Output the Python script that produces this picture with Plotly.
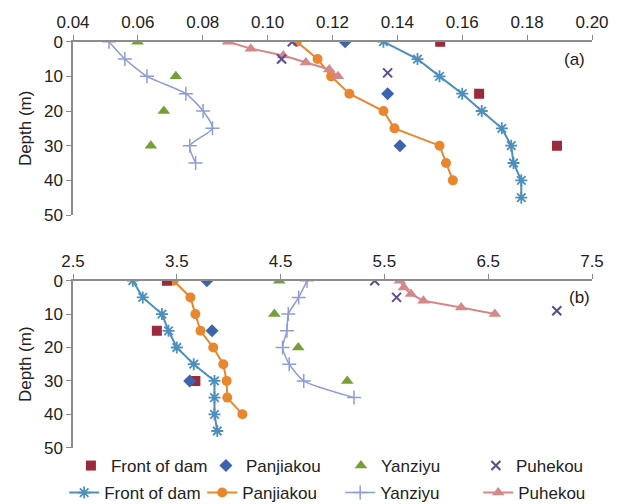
import plotly.graph_objects as go

# ---------------- data (a) ----------------
a_fd_line_depth = [0, 5, 10, 15, 20, 25, 30, 35, 40, 45]
a_fd_line_val = [0.1357, 0.1462, 0.1530, 0.1600, 0.1660, 0.1722, 0.1751, 0.1758, 0.1782, 0.1782]
a_pj_line_depth = [0, 5, 10, 15, 20, 25, 30, 35, 40]
a_pj_line_val = [0.1090, 0.1154, 0.1196, 0.1252, 0.1357, 0.1391, 0.1530, 0.1550, 0.1571]
a_yz_line_depth = [0, 5, 10, 15, 20, 25, 30, 35]
a_yz_line_val = [0.0511, 0.0560, 0.0628, 0.0748, 0.0801, 0.0830, 0.0760, 0.0778]
a_ph_line_depth = [0, 2, 4, 6, 8, 10]
a_ph_line_val = [0.0878, 0.0948, 0.1048, 0.1118, 0.1190, 0.1217]

a_fd_pt_depth = [0, 15, 30]
a_fd_pt_val = [0.1532, 0.1652, 0.1892]
a_pj_pt_depth = [0, 15, 30]
a_pj_pt_val = [0.1239, 0.1370, 0.1408]
a_yz_pt_depth = [0, 10, 20, 30]
a_yz_pt_val = [0.0599, 0.0717, 0.0680, 0.0640]
a_ph_pt_depth = [0, 5, 9]
a_ph_pt_val = [0.1076, 0.1043, 0.1370]

# ---------------- data (b) ----------------
b_fd_line_depth = [0, 5, 10, 15, 20, 25, 30, 35, 40, 45]
b_fd_line_val = [3.076, 3.172, 3.357, 3.420, 3.500, 3.663, 3.863, 3.863, 3.863, 3.890]
b_pj_line_depth = [0, 5, 10, 15, 20, 25, 30, 35, 40]
b_pj_line_val = [3.469, 3.631, 3.679, 3.728, 3.851, 3.948, 3.980, 3.986, 4.132]
b_yz_line_depth = [0, 5, 10, 15, 20, 25, 30, 35]
b_yz_line_val = [4.755, 4.674, 4.574, 4.561, 4.519, 4.583, 4.723, 5.207]
b_ph_line_depth = [0, 2, 4, 6, 8, 10]
b_ph_line_val = [5.649, 5.688, 5.756, 5.876, 6.240, 6.564]

b_fd_pt_depth = [0, 15, 30]
b_fd_pt_val = [3.405, 3.308, 3.679]
b_pj_pt_depth = [0, 15, 30]
b_pj_pt_val = [3.790, 3.840, 3.624]
b_yz_pt_depth = [0, 10, 20, 30]
b_yz_pt_val = [4.487, 4.440, 4.670, 5.142]
b_ph_pt_depth = [0, 5, 9]
b_ph_pt_val = [5.407, 5.617, 7.161]

names = ["Front of dam", "Panjiakou", "Yanziyu", "Puhekou"]
a_x_ticks = [0.04, 0.06, 0.08, 0.10, 0.12, 0.14, 0.16, 0.18, 0.20]
b_x_ticks = [2.5, 3.5, 4.5, 5.5, 6.5, 7.5]
y_ticks = [0, 10, 20, 30, 40, 50]

# ---------------- styles ----------------
pt_styles = [
    dict(symbol="square", color="#9C2A3C", size=10, line=dict(width=0)),
    dict(symbol="diamond", color="#3E63AE", size=10, line=dict(width=0)),
    dict(symbol="triangle-up", color="#76A035", size=11, line=dict(width=0)),
    dict(symbol="x-thin-open", color="#5B4A94", size=9, line=dict(width=2, color="#5B4A94")),
]
line_colors = ["#4C8FBF", "#E8872F", "#8E9CD8", "#D4888A"]
line_shapes = ["linear", "linear", "spline", "linear"]
line_markers = [
    dict(symbol="asterisk-open", size=10, line=dict(width=1.8, color="#4C8FBF")),
    dict(symbol="circle", size=10, color="#E8872F"),
    dict(symbol="cross-thin-open", size=10, line=dict(width=1.5, color="#8E9CD8")),
    dict(symbol="triangle-up", size=11, color="#D4888A"),
]

FONT = "Liberation Sans, Arial, sans-serif"
fig = go.Figure()

a_pts = [(a_fd_pt_val, a_fd_pt_depth), (a_pj_pt_val, a_pj_pt_depth),
         (a_yz_pt_val, a_yz_pt_depth), (a_ph_pt_val, a_ph_pt_depth)]
b_pts = [(b_fd_pt_val, b_fd_pt_depth), (b_pj_pt_val, b_pj_pt_depth),
         (b_yz_pt_val, b_yz_pt_depth), (b_ph_pt_val, b_ph_pt_depth)]
a_lines = [(a_fd_line_val, a_fd_line_depth), (a_pj_line_val, a_pj_line_depth),
           (a_yz_line_val, a_yz_line_depth), (a_ph_line_val, a_ph_line_depth)]
b_lines = [(b_fd_line_val, b_fd_line_depth), (b_pj_line_val, b_pj_line_depth),
           (b_yz_line_val, b_yz_line_depth), (b_ph_line_val, b_ph_line_depth)]

# lines
for i in range(4):
    lw = 1.5 if i == 2 else 2
    ln = dict(color=line_colors[i], width=lw, shape=line_shapes[i], smoothing=0.6)
    fig.add_trace(go.Scatter(x=a_lines[i][0], y=a_lines[i][1], mode="lines+markers",
                             name=names[i], line=ln,
                             marker=line_markers[i], legend="legend2", showlegend=True,
                             xaxis="x", yaxis="y"))
    fig.add_trace(go.Scatter(x=b_lines[i][0], y=b_lines[i][1], mode="lines+markers",
                             name=names[i], line=ln,
                             marker=line_markers[i], showlegend=False,
                             xaxis="x2", yaxis="y2"))
# points
for i in range(4):
    fig.add_trace(go.Scatter(x=a_pts[i][0], y=a_pts[i][1], mode="markers",
                             name=names[i], marker=pt_styles[i], legend="legend",
                             showlegend=True, xaxis="x", yaxis="y"))
    fig.add_trace(go.Scatter(x=b_pts[i][0], y=b_pts[i][1], mode="markers",
                             name=names[i], marker=pt_styles[i], showlegend=False,
                             xaxis="x2", yaxis="y2"))

axcol = "#8C8C8C"
common_x = dict(side="top", showgrid=False, zeroline=False, showline=True,
                linecolor=axcol, linewidth=1.5, ticks="outside", ticklen=5,
                tickcolor=axcol, tickfont=dict(size=17, color="#222", family=FONT))
common_y = dict(showgrid=False, zeroline=False, showline=True, linecolor=axcol,
                linewidth=1.5, ticks="outside", ticklen=5, tickcolor=axcol,
                tickvals=y_ticks, range=[50, 0],
                tickfont=dict(size=17, color="#222", family=FONT),
                title=dict(text="Depth (m)", font=dict(size=17, color="#222", family=FONT),
                           standoff=8))

H_PLOT = 448.0  # plot area height (504 - bottom margin 56)

def dom(top_px, bot_px):
    return [max(0.0, 1 - bot_px / H_PLOT), 1 - top_px / H_PLOT]

fig.update_layout(
    width=620, height=504,
    margin=dict(l=73, r=28, t=0, b=56, autoexpand=False),
    paper_bgcolor="white", plot_bgcolor="white",
    font=dict(family=FONT, size=17, color="#222"),
    xaxis=dict(common_x, domain=[0, 1], range=[0.04, 0.20], tickvals=a_x_ticks,
               ticktext=[f"{v:.2f}" for v in a_x_ticks], anchor="y"),
    yaxis=dict(common_y, domain=dom(41.7, 215.0), anchor="x"),
    xaxis2=dict(common_x, domain=[0, 1], range=[2.5, 7.5], tickvals=b_x_ticks,
                ticktext=[f"{v:.1f}" for v in b_x_ticks], anchor="y2"),
    yaxis2=dict(common_y, domain=dom(280.7, 447.7), anchor="x2"),
    legend=dict(orientation="h", x=-0.004, y=-(466 - H_PLOT) / H_PLOT,
                xanchor="left", yanchor="middle",
                entrywidth=90, entrywidthmode="pixels", bgcolor="rgba(0,0,0,0)",
                font=dict(size=17, color="#222", family=FONT), tracegroupgap=0),
    legend2=dict(orientation="h", x=-0.017, y=-(493 - H_PLOT) / H_PLOT,
                 xanchor="left", yanchor="middle",
                 entrywidth=93, entrywidthmode="pixels", bgcolor="rgba(0,0,0,0)",
                 font=dict(size=17, color="#222", family=FONT), tracegroupgap=0),
    annotations=[
        dict(text="(a)", xref="x domain", yref="y domain", x=0.99, y=0.90,
             xanchor="right", yanchor="middle", showarrow=False,
             font=dict(size=17, color="#222", family=FONT)),
        dict(text="(b)", xref="x2 domain", yref="y2 domain", x=1.0, y=0.90,
             xanchor="right", yanchor="middle", showarrow=False,
             font=dict(size=17, color="#222", family=FONT)),
    ],
)

fig.write_html("out.html")
